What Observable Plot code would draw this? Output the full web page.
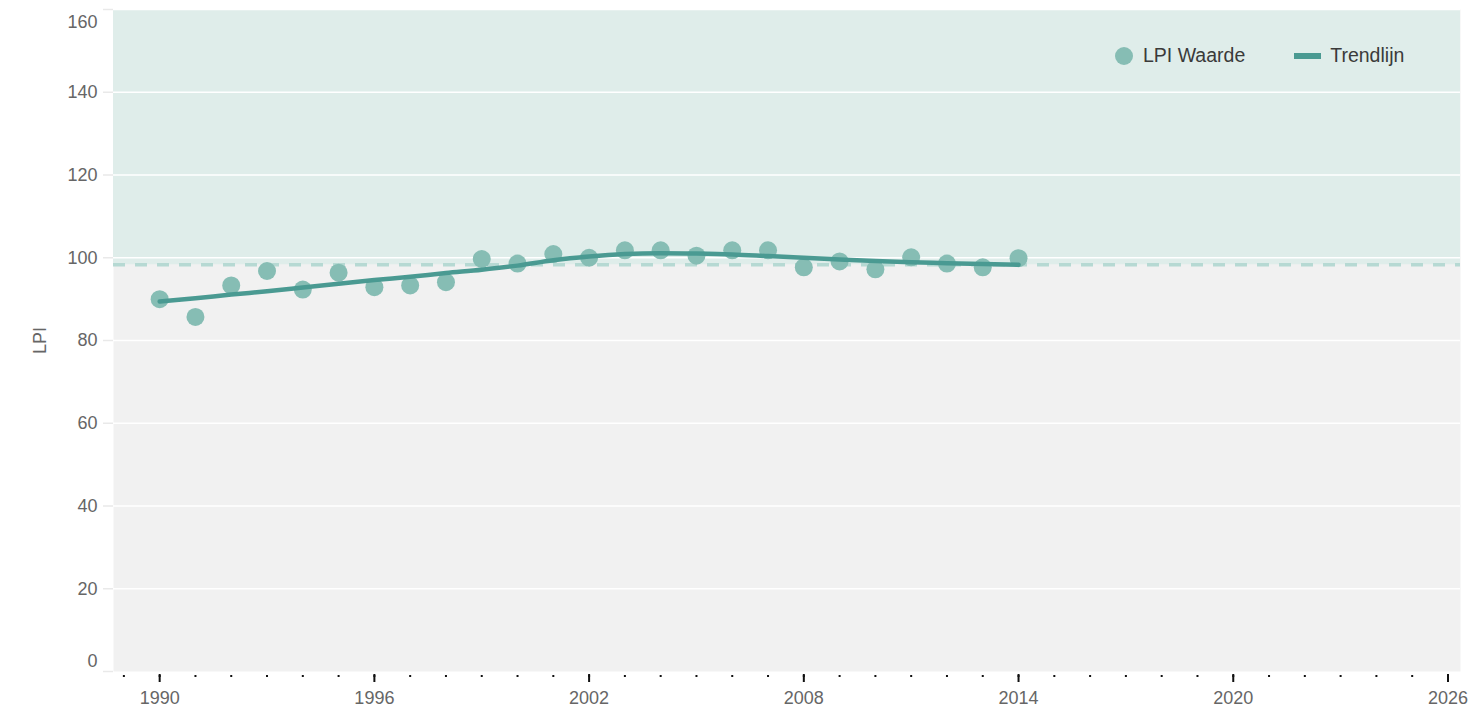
<!DOCTYPE html>
<html>
<head>
<meta charset="utf-8">
<script src="https://cdn.jsdelivr.net/npm/d3@7"></script>
<script src="https://cdn.jsdelivr.net/npm/@observablehq/plot@0.6"></script>
<style>
  html, body { margin: 0; padding: 0; background: #ffffff; }
  #wrap { position: relative; width: 1472px; height: 712px; font-family: "Liberation Sans", Arial, sans-serif; }
  .legend { position: absolute; top: 44px; left: 1115px; display: flex; align-items: center; font-size: 19.5px; color: #3a3a3a; }
  .legend .item { display: flex; align-items: center; }
  .legend .dot { width: 18px; height: 18px; border-radius: 50%; background: #86bdb4; margin-right: 10px; }
  .legend .swatch { width: 27px; height: 6px; background: #4a9a92; margin-right: 9px; margin-left: 49px; }
</style>
</head>
<body>
<div id="wrap"></div>
<script>
const years = [1990, 1991, 1992, 1993, 1994, 1995, 1996, 1997, 1998, 1999, 2000, 2001, 2002, 2003, 2004, 2005, 2006, 2007, 2008, 2009, 2010, 2011, 2012, 2013, 2014];
const lpiValues = [90.0, 85.7, 93.3, 96.8, 92.3, 96.4, 92.9, 93.3, 94.1, 99.7, 98.6, 100.9, 100.0, 101.8, 101.8, 100.5, 101.8, 101.8, 97.7, 99.1, 97.2, 100.1, 98.6, 97.7, 99.9];
const trendValues = [89.4, 90.2, 91.1, 91.9, 92.8, 93.7, 94.6, 95.4, 96.3, 97.1, 98.1, 99.4, 100.3, 100.9, 101.1, 101.0, 100.8, 100.4, 100.0, 99.6, 99.2, 98.9, 98.7, 98.5, 98.3];
const baseline = 98.3;
const xMajorTicks = [1990, 1996, 2002, 2008, 2014, 2020, 2026];
const xMinorTicks = d3.range(1989, 2027);
const yTicks = [0, 20, 40, 60, 80, 100, 120, 140, 160];
const yMidTicks = [20, 40, 60, 80, 100, 120, 140];
const xDomain = [1988.71, 2026.35];
const yDomain = [0, 160];
const seriesNames = ["LPI Waarde", "Trendlijn"];

const lpi = years.map((year, i) => ({year, value: lpiValues[i]}));
const trend = years.map((year, i) => ({year, value: trendValues[i]}));

const fmt = d => String(d);
const tickFont = 18;
const tickColor = "#666666";

const chart = Plot.plot({
  width: 1472,
  height: 712,
  marginTop: 9,
  marginBottom: 41,
  marginLeft: 113,
  marginRight: 12,
  style: {fontFamily: '"Liberation Sans", Arial, sans-serif', background: "#ffffff", color: "#333"},
  x: {domain: xDomain, axis: null},
  y: {domain: yDomain, axis: null},
  marks: [
    Plot.frame({fill: "#f1f1f1", stroke: null}),
    Plot.rect([baseline], {x1: xDomain[0], x2: xDomain[1], y1: d => d, y2: yDomain[1], fill: "#dfedea"}),
    Plot.gridY(yTicks.filter(d => d > 0), {stroke: "#ffffff", strokeOpacity: 1, strokeWidth: 1.5}),
    Plot.ruleY([baseline], {stroke: "#b6d9d3", strokeWidth: 3.5, strokeDasharray: "12,10"}),
    // y axis: faint ticks + labels
    Plot.axisY(yTicks, {tickSize: 10, tickFormat: () => "", stroke: "#e9e9e9", strokeWidth: 1.5, label: null}),
    Plot.axisY(yMidTicks, {tickSize: 0, tickPadding: 16, fontSize: tickFont, fill: tickColor, tickFormat: fmt, label: null}),
    Plot.axisY([yDomain[0]], {tickSize: 0, tickPadding: 16, dy: -10, fontSize: tickFont, fill: tickColor, tickFormat: fmt, label: null}),
    Plot.axisY([yDomain[1]], {tickSize: 0, tickPadding: 16, dy: 13, fontSize: tickFont, fill: tickColor, tickFormat: fmt, label: "LPI", labelAnchor: "center", labelArrow: "none", labelOffset: 80}),
    // x axis: minor & major ticks + labels
    Plot.axisX(xMinorTicks, {tickSize: 2, dy: 4, stroke: "#111", strokeWidth: 2, tickFormat: () => "", label: null}),
    Plot.axisX(xMajorTicks, {tickSize: 8, dy: 3, stroke: "#111", strokeWidth: 2, tickFormat: () => "", label: null}),
    Plot.axisX(xMajorTicks, {tickSize: 0, tickPadding: 20, fontSize: tickFont, fill: tickColor, tickFormat: fmt, label: null}),
    Plot.dot(lpi, {x: "year", y: "value", r: 9, fill: "#86bdb4", stroke: null}),
    Plot.line(trend, {x: "year", y: "value", stroke: "#4a9a92", strokeWidth: 4.5, curve: "monotone-x", strokeLinecap: "round"})
  ]
});

const wrap = document.getElementById("wrap");
wrap.appendChild(chart);

const legend = document.createElement("div");
legend.className = "legend";
legend.innerHTML = `
  <div class="item"><div class="dot"></div><span>${seriesNames[0]}</span></div>
  <div class="item"><div class="swatch"></div><span>${seriesNames[1]}</span></div>`;
wrap.appendChild(legend);
</script>
</body>
</html>
